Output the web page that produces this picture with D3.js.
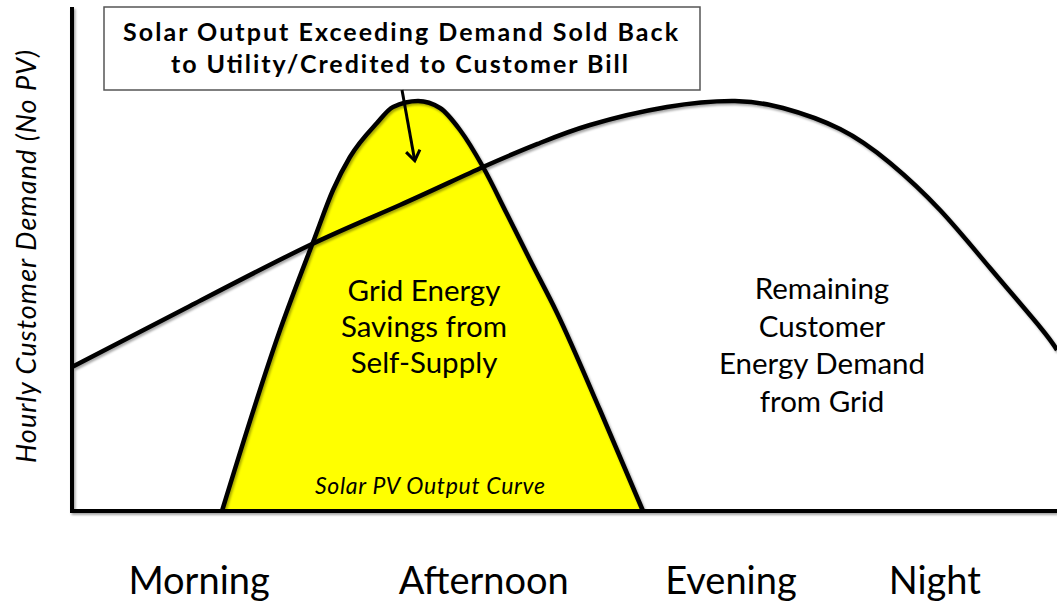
<!DOCTYPE html>
<html>
<head>
<meta charset="utf-8">
<script src="https://cdn.jsdelivr.net/npm/d3@7"></script>
<style>
  html, body { margin: 0; padding: 0; background: #fff; }
  svg { display: block; font-family: Lato, "Open Sans", sans-serif; }
</style>
</head>
<body>
<svg id="chart" width="1057" height="608"></svg>
<script>
// time of day runs 0..100 across the plot, demand 0..100 up the axis
const demandT = [0, 11.98, 24.16, 33.30, 41.73, 47.51, 52.59, 60.41, 67.31, 72.18, 77.97, 83.05, 88.12, 93.20, 98.27, 100];
const demandV = [28.57, 40.67, 52.78, 60.71, 68.25, 73.02, 76.59, 80.16, 81.35, 79.96, 75.79, 69.05, 59.72, 48.21, 36.51, 31.94];

const solarT = [15.23, 21.12, 24.67, 26.50, 28.22, 30.96, 32.59, 35.13, 37.36, 39.39, 41.73, 44.16, 46.50, 49.24, 53.60, 57.97];
const solarV = [0, 35.91, 54.37, 63.69, 70.24, 76.98, 80.16, 81.35, 79.96, 75.60, 68.25, 58.93, 49.80, 39.29, 20.04, 0];

const periods = ["Morning", "Afternoon", "Evening", "Night"];
const periodT = [12.9, 41.8, 66.9, 87.6];

const boxLines = ["Solar Output Exceeding Demand Sold Back", "to Utility/Credited to Customer Bill"];
const savingsLines = ["Grid Energy", "Savings from", "Self-Supply"];
const remainingLines = ["Remaining", "Customer", "Energy Demand", "from Grid"];

const svg = d3.select("#chart");
const W = 1057, H = 608;
const plotLeft = 72, plotBottom = 511, plotTop = 7;

const x = d3.scaleLinear().domain([0, 100]).range([plotLeft, W]);
const y = d3.scaleLinear().domain([0, 100]).range([plotBottom, plotTop]);

const defs = svg.append("defs");
const shadow = defs.append("filter").attr("id", "shadow")
  .attr("x", "-5%").attr("y", "-5%").attr("width", "110%").attr("height", "110%");
shadow.append("feDropShadow").attr("dx", 1.5).attr("dy", 2).attr("stdDeviation", 1.2)
  .attr("flood-color", "#000").attr("flood-opacity", 0.35);

defs.append("marker").attr("id", "arrow")
  .attr("viewBox", "-12 -12 24 24").attr("markerWidth", 24).attr("markerHeight", 24)
  .attr("markerUnits", "userSpaceOnUse").attr("orient", "auto").attr("refX", 0).attr("refY", 0)
  .append("path").attr("d", "M-10,-7 L0,0 L-10,7")
  .attr("fill", "none").attr("stroke", "#000").attr("stroke-width", 3)
  .attr("stroke-linejoin", "miter");

const demand = demandT.map((t, i) => ({ t, v: demandV[i] }));
const solar = solarT.map((t, i) => ({ t, v: solarV[i] }));

// solar area (yellow)
svg.append("path").datum(solar)
  .attr("d", d3.area().x(d => x(d.t)).y0(y(0)).y1(d => y(d.v)).curve(d3.curveMonotoneX))
  .attr("fill", "#FFFF00");

const solarLine = d3.line().x(d => x(d.t)).y(d => y(d.v)).curve(d3.curveMonotoneX);
const demandLine = d3.line().x(d => x(d.t)).y(d => y(d.v)).curve(d3.curveNatural);

const g = svg.append("g").attr("filter", "url(#shadow)");

g.append("path").datum(demand).attr("d", demandLine)
  .attr("fill", "none").attr("stroke", "#000").attr("stroke-width", 4.5);

g.append("path").datum(solar).attr("d", solarLine)
  .attr("fill", "none").attr("stroke", "#000").attr("stroke-width", 4.5);

// axes
g.append("line").attr("x1", plotLeft).attr("x2", plotLeft).attr("y1", plotTop).attr("y2", plotBottom + 2)
  .attr("stroke", "#000").attr("stroke-width", 4);
g.append("line").attr("x1", plotLeft - 2).attr("x2", W).attr("y1", plotBottom).attr("y2", plotBottom)
  .attr("stroke", "#000").attr("stroke-width", 4);

// fit a text element to a target width by adjusting letter spacing
function fit(sel, w) {
  sel.attr("textLength", w).attr("lengthAdjust", "spacing");
}

// annotation box
svg.append("rect").attr("x", 104).attr("y", 7).attr("width", 596).attr("height", 83)
  .attr("fill", "#fff").attr("stroke", "#555").attr("stroke-width", 1.5);
const bx = [123, 171], bw = [555, 457], bb = [41, 73];
boxLines.forEach((s, i) => {
  svg.append("text").attr("x", bx[i]).attr("y", bb[i])
    .attr("font-size", 25).attr("font-weight", "bold").attr("fill", "#000")
    .text(s).call(fit, bw[i]);
});

// arrow from box to overproduction area
svg.append("line")
  .attr("x1", 402).attr("y1", 90).attr("x2", x(34.8)).attr("y2", y(69.5))
  .attr("stroke", "#000").attr("stroke-width", 3).attr("marker-end", "url(#arrow)");

// region labels
savingsLines.forEach((s, i) => {
  svg.append("text").attr("x", 424).attr("y", 301 + i * 36)
    .attr("text-anchor", "middle").attr("font-size", 29.5).attr("fill", "#000").text(s);
});
remainingLines.forEach((s, i) => {
  svg.append("text").attr("x", 822).attr("y", 299 + i * 37.7)
    .attr("text-anchor", "middle").attr("font-size", 29.5).attr("fill", "#000").text(s);
});

svg.append("text").attr("x", 315).attr("y", 494)
  .attr("font-size", 23).attr("font-style", "italic").attr("fill", "#000")
  .text("Solar PV Output Curve").call(fit, 230);

// period labels on the x axis
periods.forEach((p, i) => {
  svg.append("text").attr("x", x(periodT[i])).attr("y", 594)
    .attr("text-anchor", "middle").attr("font-size", 38).attr("fill", "#000").text(p);
});

// y axis title
svg.append("text")
  .attr("transform", "translate(36,463) rotate(-90)")
  .attr("font-size", 27).attr("font-style", "italic")
  .attr("fill", "#000").text("Hourly Customer Demand (No PV)").call(fit, 413);
</script>
</body>
</html>
